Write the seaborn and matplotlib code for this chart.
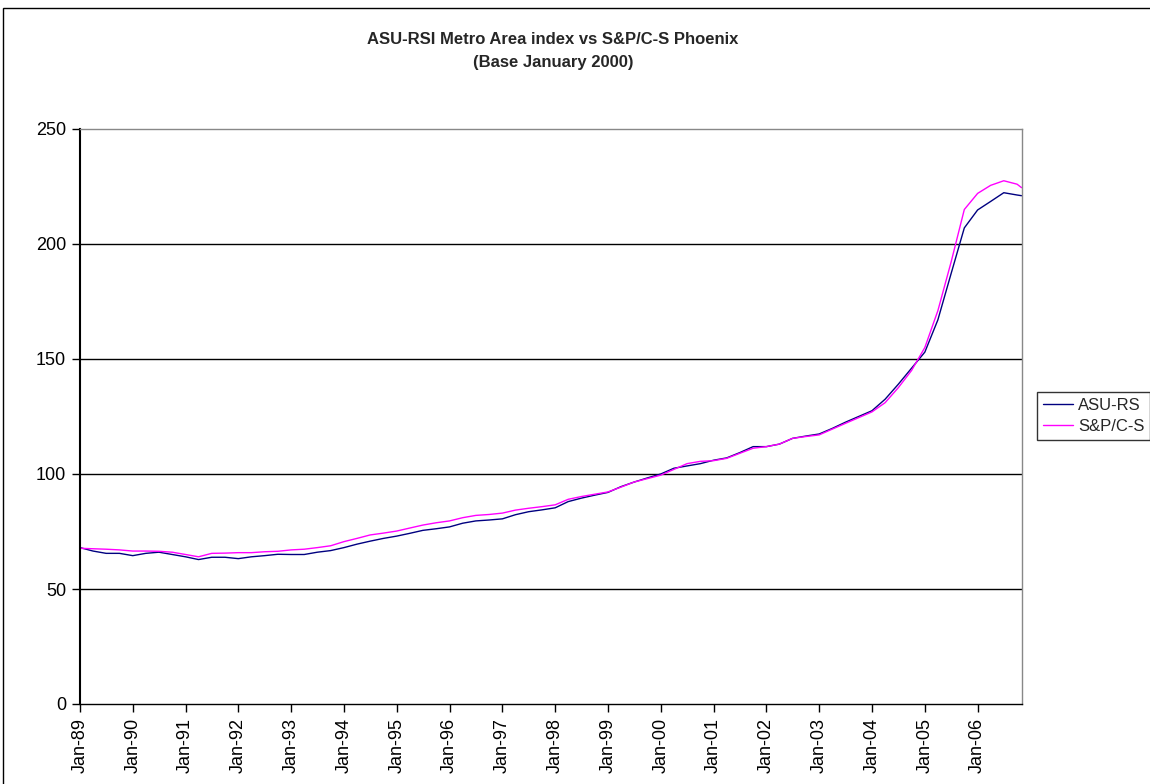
import pandas as pd
import seaborn as sns
import matplotlib.pyplot as plt
import matplotlib.dates as mdates
from matplotlib.patches import Rectangle

# quarterly readings Jan-89 .. Oct-06, plus the last month (Nov-06)
dates = list(pd.date_range("1989-01-01", "2006-10-01", freq="QS")) + [pd.Timestamp("2006-11-01")]

asu_rs = [
    68.0, 66.5, 65.5, 65.5,
    64.5, 65.5, 66.0, 65.0,
    64.0, 62.8, 63.8, 63.8,
    63.2, 64.0, 64.5, 65.1,
    65.0, 65.0, 66.0, 66.7,
    68.0, 69.5, 70.8, 72.0,
    73.0, 74.2, 75.5, 76.2,
    77.0, 78.6, 79.6, 80.0,
    80.5, 82.3, 83.6, 84.4,
    85.3, 88.0, 89.5, 90.8,
    92.0, 94.5, 96.5, 98.3,
    100.0, 102.5, 103.5, 104.5,
    106.0, 107.0, 109.3, 111.9,
    111.9, 113.0, 115.5, 116.5,
    117.4, 119.8, 122.5, 125.0,
    127.5, 132.5, 139.0, 146.0,
    153.0, 167.0, 187.0, 207.0,
    214.8, 218.5, 222.3, 221.3,
    221.0,
]

sp_cs = [
    67.7, 67.5, 67.3, 67.0,
    66.5, 66.5, 66.4, 66.0,
    65.0, 64.0, 65.5, 65.6,
    65.8, 65.8, 66.2, 66.4,
    67.0, 67.3, 68.0, 68.8,
    70.6, 72.0, 73.5, 74.3,
    75.2, 76.5, 77.8, 78.8,
    79.6, 81.0, 82.0, 82.4,
    83.0, 84.3, 85.1, 85.8,
    86.6, 89.0, 90.2, 91.2,
    92.2, 94.3, 96.5, 98.0,
    99.5, 102.0, 104.5, 105.5,
    105.8, 106.8, 109.0, 111.2,
    111.9, 113.0, 115.5, 116.3,
    117.0, 119.5, 122.0, 124.5,
    127.0, 131.0, 137.5, 145.0,
    155.0, 171.0, 192.0, 215.0,
    222.0, 225.5, 227.5, 226.0,
    224.5,
]

series_names = ["ASU-RS", "S&P/C-S"]
colors = {"ASU-RS": "#000080", "S&P/C-S": "#FF00FF"}

df = pd.concat([
    pd.DataFrame({"date": dates, "value": asu_rs, "series": "ASU-RS"}),
    pd.DataFrame({"date": dates, "value": sp_cs, "series": "S&P/C-S"}),
])

sns.set_style("white")
plt.rcParams["font.family"] = ["Liberation Sans", "DejaVu Sans"]

fig = plt.figure(figsize=(11.5, 7.84), dpi=100)
ax = fig.add_axes([80 / 1150, 1 - 704 / 784, 942 / 1150, 575 / 784])

sns.lineplot(data=df, x="date", y="value", hue="series", palette=colors,
             hue_order=series_names, linewidth=1, legend=False, ax=ax)

ax.set_ylim(0, 250)
ax.set_yticks([0, 50, 100, 150, 200, 250])
ax.set_xlim(pd.Timestamp("1989-01-01"), pd.Timestamp("2006-11-04"))
ax.xaxis.set_major_locator(mdates.YearLocator(1, month=1, day=1))
ax.xaxis.set_major_formatter(mdates.DateFormatter("%b-%y"))
ax.set_xlabel("")
ax.set_ylabel("")

for v in [50, 100, 150, 200]:
    ax.axhline(v, color="black", lw=1, zorder=0)

for side in ["top", "right"]:
    ax.spines[side].set_color("#888888")
    ax.spines[side].set_linewidth(1)
ax.spines["left"].set_color("black")
ax.spines["left"].set_linewidth(1.5)
ax.spines["bottom"].set_color("black")
ax.spines["bottom"].set_linewidth(1)

ax.tick_params(axis="both", direction="out", length=6, width=1, color="black",
               labelsize=13, labelcolor="black", bottom=True, left=True, pad=4)
plt.setp(ax.get_xticklabels(), rotation=90)

fig.text(0.481, 1 - 40 / 784, "ASU-RSI Metro Area index vs S&P/C-S Phoenix",
         ha="center", va="center", fontsize=12, fontweight="bold")
fig.text(0.481, 1 - 62 / 784, "(Base January 2000)",
         ha="center", va="center", fontsize=12, fontweight="bold")

handles = [plt.Line2D([], [], color=colors[n], lw=1) for n in series_names]
leg = fig.legend(handles, series_names, loc="center left",
                 bbox_to_anchor=(1037 / 1150, 1 - 416 / 784),
                 fontsize=12, frameon=True, fancybox=False,
                 handlelength=1.8, handletextpad=0.3, borderpad=0.35,
                 labelspacing=0.35, borderaxespad=0)
leg.get_frame().set_edgecolor("black")
leg.get_frame().set_linewidth(1)

# outer chart border
fig.patches.append(Rectangle((3 / 1150, -0.1), 1.2, 1 - 8 / 784 + 0.1,
                             transform=fig.transFigure, fill=False,
                             edgecolor="black", lw=1))

fig.savefig("out.png", dpi=100)
